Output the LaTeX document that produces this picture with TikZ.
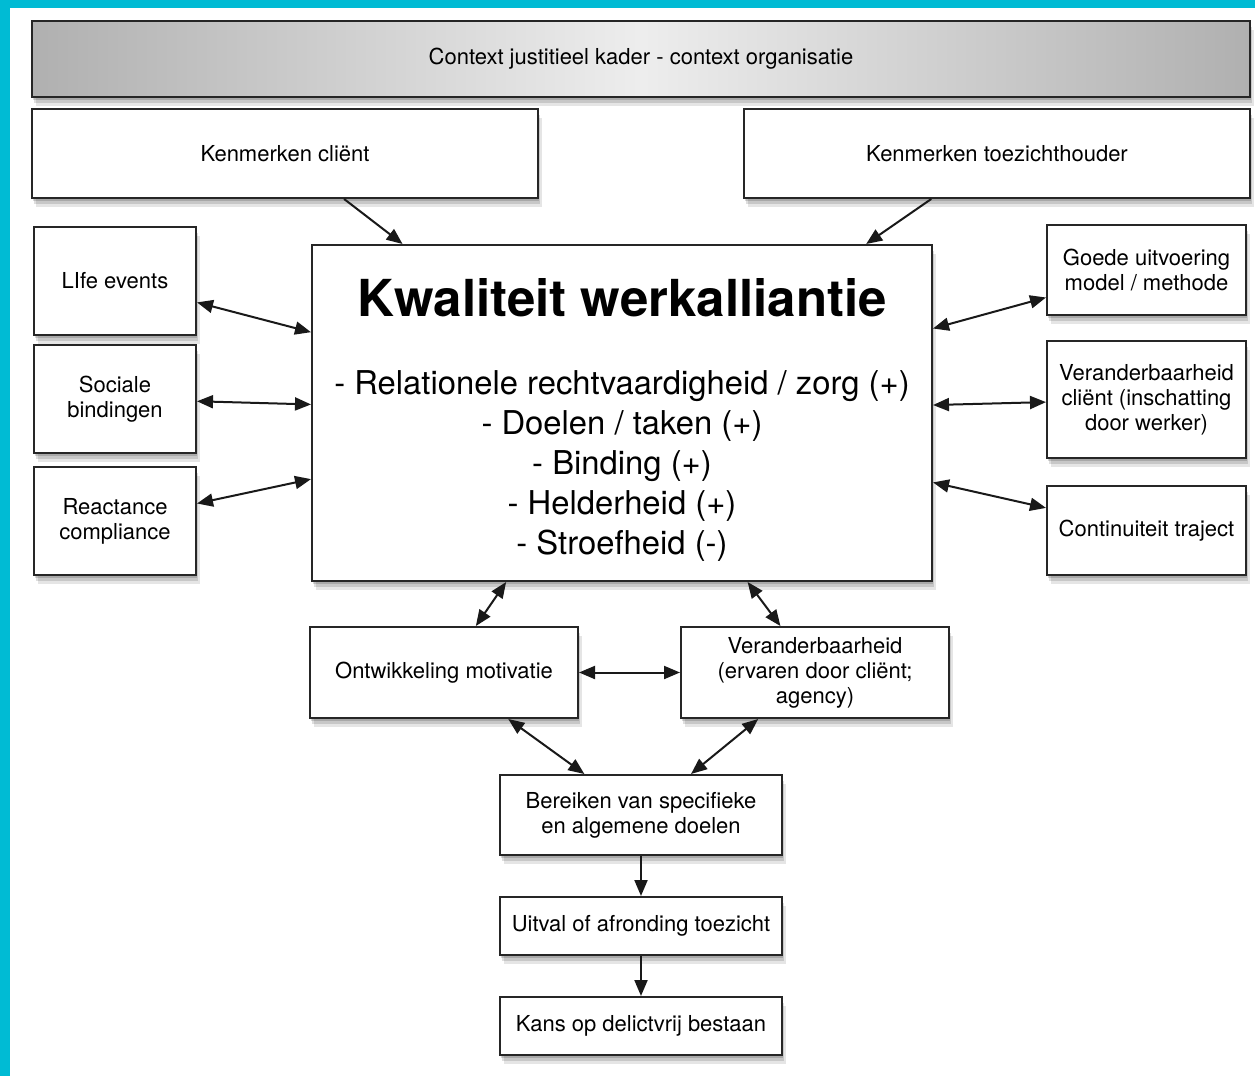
\documentclass[tikz,border=0pt]{standalone}
\usepackage{fontspec}
\setmainfont{TeX Gyre Heros}
\usetikzlibrary{arrows.meta,shadows}
\definecolor{framecyan}{RGB}{0,187,212}

\tikzset{
  softshadow/.style={
    drop shadow={fill=black,opacity=0.15,shadow xshift=0.6pt,shadow yshift=-1.5pt},
    drop shadow={fill=black,opacity=0.13,shadow xshift=1.2pt,shadow yshift=-3pt},
    drop shadow={fill=black,opacity=0.10,shadow xshift=1.8pt,shadow yshift=-4.5pt}},
  box/.style={draw=black!85,line width=1pt,fill=white,inner sep=0pt,align=center,
    font=\fontsize{11}{12.5}\selectfont,softshadow},
  link/.style={line width=1pt,draw=black!90},
}

\begin{document}
\begin{tikzpicture}[x=0.5pt,y=-0.5pt,>={Triangle[length=8pt,width=6.5pt]}]
  \useasboundingbox (0,0) rectangle (1255,1076);
  \fill[framecyan] (0,0) rectangle (1255,1076);
  \fill[white] (10,8) rectangle (1255,1076);

  % top row
  \node[box,left color=gray!62,right color=gray!62,middle color=gray!14,
        minimum width=609pt,minimum height=38pt] (ctx) at (641,59)
        {\raisebox{-1.5pt}{Context justitieel kader - context organisatie}};
  \node[box,minimum width=253pt,minimum height=44.5pt] (client) at (285,153.5) {Kenmerken cliënt};
  \node[box,minimum width=253pt,minimum height=44.5pt] (toezicht) at (997,153.5) {Kenmerken toezichthouder};

  % centre
  \node[box,minimum width=310pt,minimum height=168pt] (kw) at (622,413) {};
  \node[font=\fontsize{25.5}{30}\bfseries] (kwtitle) at (622,298) {Kwaliteit werkalliantie};
  \node[font=\fontsize{16.4}{20}\selectfont,align=center] (kwlist) at (622,466)
    {- Relationele rechtvaardigheid / zorg (+)\\- Doelen / taken (+)\\- Binding (+)\\- Helderheid (+)\\- Stroefheid (-)};

  % left column
  \node[box,minimum width=81pt,minimum height=54pt] (life) at (115,281) {LIfe events};
  \node[box,minimum width=81pt,minimum height=54pt] (sociaal) at (115,399) {Sociale\\bindingen};
  \node[box,minimum width=81pt,minimum height=54pt] (react) at (115,521) {Reactance\\compliance};

  % right column
  \node[box,minimum width=99.5pt,minimum height=45pt] (goede) at (1146.5,270) {Goede uitvoering\\model / methode};
  \node[box,minimum width=99.5pt,minimum height=58.5pt] (verclient) at (1146.5,399.5) {Veranderbaarheid\\cliënt (inschatting\\door werker)};
  \node[box,minimum width=99.5pt,minimum height=44.5pt] (contin) at (1146.5,530.5) {Continuiteit traject};

  % lower part
  \node[box,minimum width=134pt,minimum height=45.5pt] (motiv) at (444,672.5) {Ontwikkeling motivatie};
  \node[box,minimum width=134pt,minimum height=45.5pt] (verand) at (815,672.5) {Veranderbaarheid\\(ervaren door cliënt;\\agency)};
  \node[box,minimum width=141pt,minimum height=40pt] (bereik) at (641,815) {Bereiken van specifieke\\en algemene doelen};
  \node[box,minimum width=141pt,minimum height=29pt] (uitval) at (641,926) {Uitval of afronding toezicht};
  \node[box,minimum width=141pt,minimum height=29pt] (kans) at (641,1026) {Kans op delictvrij bestaan};

  % connectors
  \draw[link,->] (client) -- (kw);
  \draw[link,->] (toezicht) -- (kw);
  \foreach \n in {life,sociaal,react,goede,verclient,contin}
    \draw[link,<->] (\n) -- (kw);
  \draw[link,<->] (kw) -- (motiv);
  \draw[link,<->] (kw) -- (verand);
  \draw[link,<->] (motiv) -- (verand);
  \draw[link,<->] (motiv) -- (bereik);
  \draw[link,<->] (verand) -- (bereik);
  \draw[link,->] (bereik) -- (uitval);
  \draw[link,->] (uitval) -- (kans);
\end{tikzpicture}
\end{document}
